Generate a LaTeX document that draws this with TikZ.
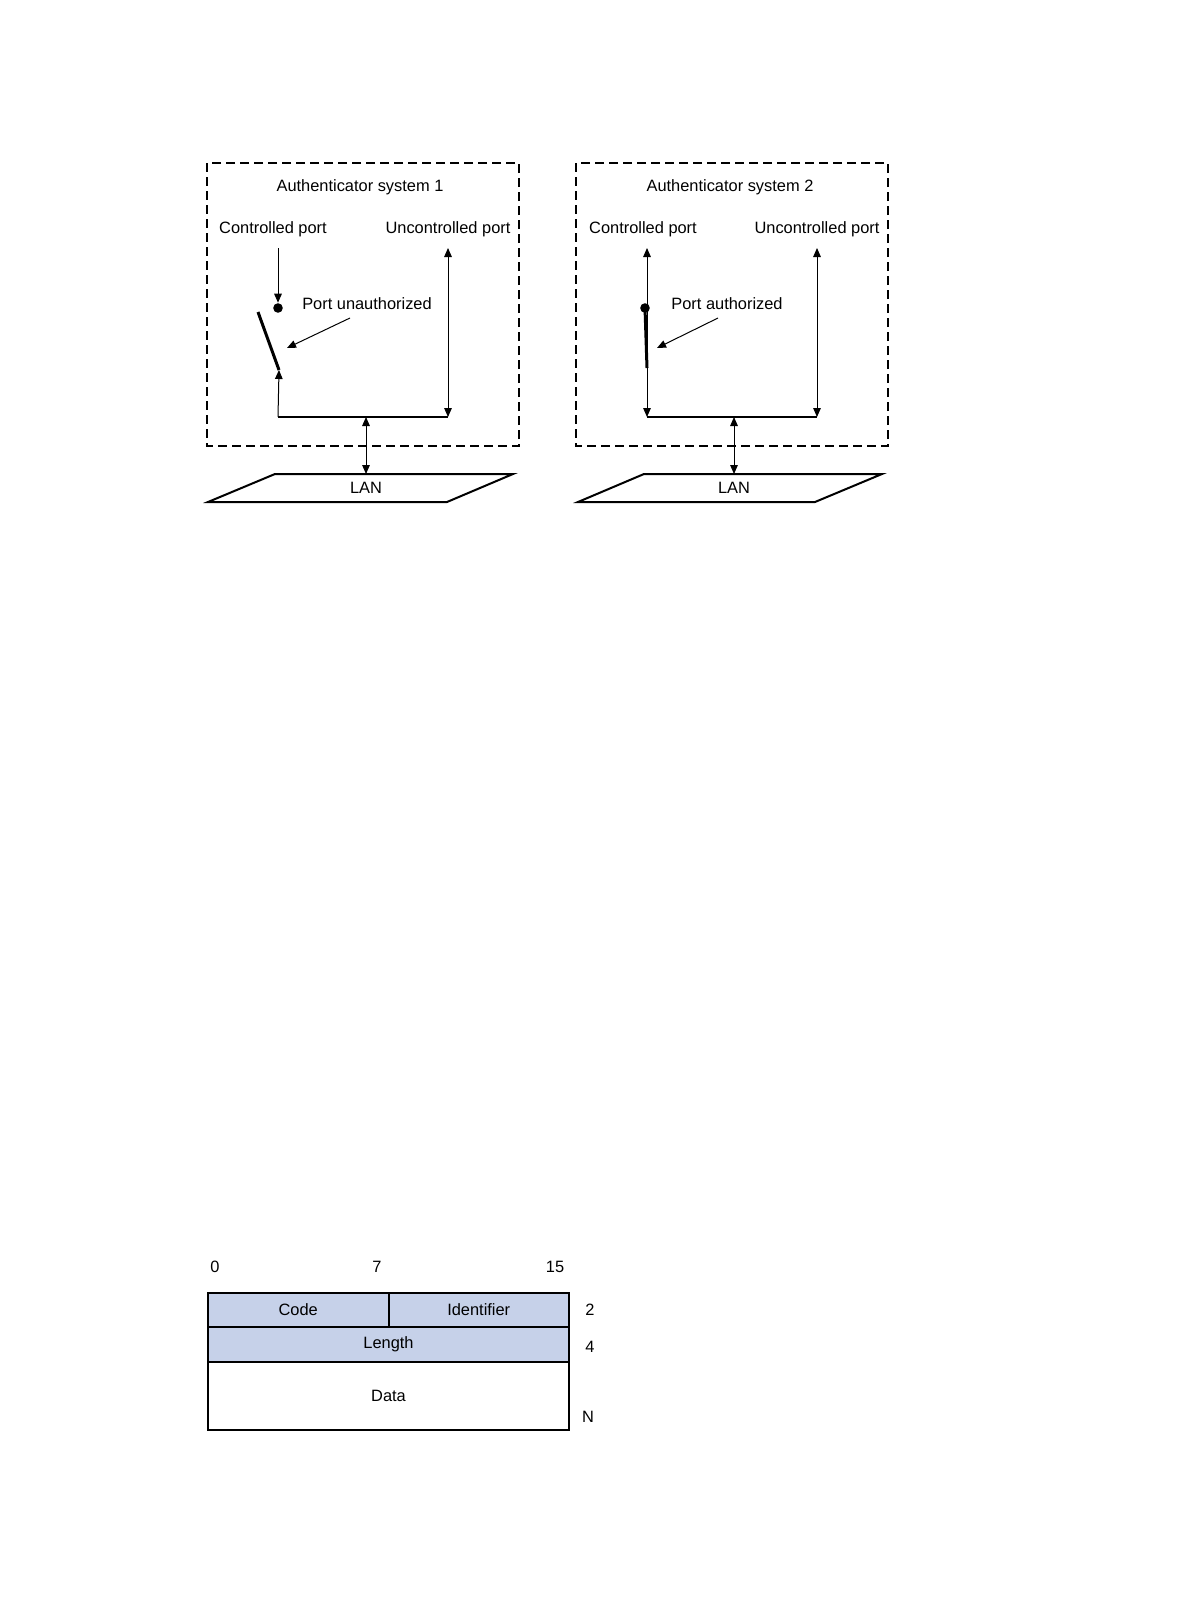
\documentclass[tikz,border=0pt]{standalone}
\usepackage{fontspec}
\setmainfont{Liberation Sans}
\usetikzlibrary{arrows.meta,positioning}
\definecolor{fieldblue}{RGB}{198,209,233}

\begin{document}
\begin{tikzpicture}[x=0.5pt,y=-0.5pt,>={Triangle[length=4.5pt,width=3.8pt]},
  font=\fontsize{8.2}{10}\selectfont, line width=0.5pt,
  sysbox/.style={draw,dash pattern=on 4.5pt off 2.5pt,line width=0.8pt},
  bus/.style={line width=1pt},
  lever/.style={line width=1.5pt},
  lan/.style={draw,line width=1pt},
  contact/.style={circle,fill,inner sep=0pt,minimum size=4.8pt},
  field/.style={draw,line width=1pt,fill=fieldblue,outer sep=0pt,
                minimum width=90.25pt,minimum height=17pt,anchor=north west}]
  \useasboundingbox (0,0) rectangle (1190,1616);

  % authenticator system 1 (port unauthorized)
  \draw[sysbox] (207,163) rectangle (519,446);
  \node (title1) at (360,187) {Authenticator system 1};
  \node (ctl1) at (273,229) {Controlled port};
  \node (unc1) at (448,229) {Uncontrolled port};
  \node (unauth) at (367,304) {Port unauthorized};
  \node[contact] (dot1) at (278,308) {};
  \coordinate (c1top) at (278,248);
  \coordinate (c1bot) at (278,417);
  \coordinate (sw1a) at (258,312);
  \coordinate (sw1b) at (279,370);
  \coordinate (u1top) at (448,248);
  \coordinate (u1bot) at (448,417);
  \coordinate (m1) at (366,417);
  \coordinate (p1) at (350,318);
  \coordinate (q1) at (287,348);
  \draw[->] (c1top) -- (dot1.north);
  \draw[lever] (sw1a) -- (sw1b);
  \draw[->] (c1bot) -- (sw1b);
  \draw[bus] (c1bot) -- (u1bot);
  \draw[<->] (u1top) -- (u1bot);
  \draw[->] (p1) -- (q1);
  \draw[lan] (275,474) -- (513,474) -- (447,502) -- (208,502) -- cycle;
  \node (lan1) at (366,488) {LAN};
  \coordinate (lan1top) at (366,474);
  \draw[<->] (m1) -- (lan1top);

  % authenticator system 2 (port authorized)
  \draw[sysbox] (576,163) rectangle (888,446);
  \node (title2) at (730,187) {Authenticator system 2};
  \node (ctl2) at (643,229) {Controlled port};
  \node (unc2) at (817,229) {Uncontrolled port};
  \node (auth) at (727,304) {Port authorized};
  \node[contact] (dot2) at (645,308) {};
  \coordinate (c2top) at (647,248);
  \coordinate (c2bot) at (647,417);
  \coordinate (sw2b) at (647,368);
  \coordinate (u2top) at (817,248);
  \coordinate (u2bot) at (817,417);
  \coordinate (m2) at (734,417);
  \coordinate (p2) at (718,318);
  \coordinate (q2) at (657,348);
  \draw[<->] (c2top) -- (c2bot);
  \draw[lever] (dot2.center) -- (sw2b);
  \draw[bus] (c2bot) -- (u2bot);
  \draw[<->] (u2top) -- (u2bot);
  \draw[->] (p2) -- (q2);
  \draw[lan] (644,474) -- (882,474) -- (815,502) -- (578,502) -- cycle;
  \node (lan2) at (734,488) {LAN};
  \coordinate (lan2top) at (734,474);
  \draw[<->] (m2) -- (lan2top);

  % packet format
  \node (b0) at (215,1267) {0};
  \node (b7) at (377,1267) {7};
  \node (b15) at (555,1267) {15};
  \node[field] (code) at (208,1293) {Code};
  \node[field] (ident) at (code.north east) {Identifier};
  \node[field,minimum width=180.5pt,minimum height=17.5pt] (len) at (code.south west) {Length};
  \node[field,fill=white,minimum width=180.5pt,minimum height=34pt] (data) at (len.south west) {Data};
  \node (o2) at (590,1310) {2};
  \node (o4) at (590,1347) {4};
  \node (oN) at (588,1417) {N};
\end{tikzpicture}
\end{document}
